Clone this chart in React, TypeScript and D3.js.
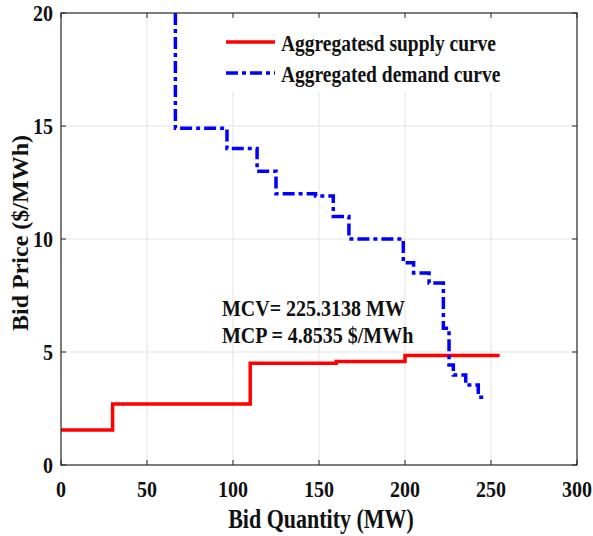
import React, { useEffect, useRef } from "react";
import * as d3 from "d3";

// step curves: price holds from qty[i] to qty[i+1]
const supplyQty = [0, 30, 110, 160, 200, 255];
const supplyPrice = [1.55, 2.7, 4.5, 4.58, 4.85, 4.85];

const demandQty = [66.5, 66.5, 96.5, 114, 125, 148, 158.3, 167.4, 199, 205, 214, 222.3, 225.6, 228.1, 235.3, 242.6, 247];
const demandPrice = [20, 14.9, 14.0, 13.0, 12.0, 11.9, 11.0, 10.0, 8.95, 8.5, 8.05, 6.05, 4.42, 3.98, 3.54, 3.0, 3.0];

const xTicks = [0, 50, 100, 150, 200, 250, 300];
const yTicks = [0, 5, 10, 15, 20];
const legendLabels = ["Aggregatesd supply curve", "Aggregated demand curve"];
const annotationLines = ["MCV= 225.3138 MW", "MCP = 4.8535 $/MWh"];
const xTitle = "Bid Quantity (MW)";
const yTitle = "Bid Price ($/MWh)";

const W = 593;
const H = 536;
const FONT = "'Liberation Serif', 'Times New Roman', serif";

type Pt = [number, number];

const Chart: React.FC = () => {
  const svgRef = useRef<SVGSVGElement | null>(null);

  useEffect(() => {
    if (!svgRef.current) return;
    const margin = { top: 13, right: 16, bottom: 71, left: 61 };
    const pw = W - margin.left - margin.right;
    const ph = H - margin.top - margin.bottom;

    const svg = d3.select(svgRef.current);
    svg.selectAll("*").remove();

    const g = svg
      .append("g")
      .attr("transform", `translate(${margin.left},${margin.top})`);

    const x = d3.scaleLinear().domain([0, 300]).range([0, pw]);
    const y = d3.scaleLinear().domain([0, 20]).range([ph, 0]);

    const text = (
      parent: d3.Selection<SVGGElement, unknown, null, undefined>,
      tx: number,
      ty: number,
      s: string,
      size: number,
      anchor: string,
      extra = ""
    ) =>
      parent
        .append("text")
        .attr("transform", `translate(${tx},${ty}) ${extra} scale(1,1.2)`)
        .attr("text-anchor", anchor)
        .attr("font-family", FONT)
        .attr("font-weight", "bold")
        .attr("font-size", size)
        .attr("fill", "#111")
        .text(s);

    // grid
    g.selectAll(".gx")
      .data(xTicks.slice(1, -1))
      .enter()
      .append("line")
      .attr("x1", (d) => x(d))
      .attr("x2", (d) => x(d))
      .attr("y1", 0)
      .attr("y2", ph)
      .attr("stroke", "#e3e3e3")
      .attr("stroke-width", 1);
    g.selectAll(".gy")
      .data(yTicks.slice(1, -1))
      .enter()
      .append("line")
      .attr("x1", 0)
      .attr("x2", pw)
      .attr("y1", (d) => y(d))
      .attr("y2", (d) => y(d))
      .attr("stroke", "#e3e3e3")
      .attr("stroke-width", 1);

    svg
      .append("defs")
      .append("clipPath")
      .attr("id", "plot-clip")
      .append("rect")
      .attr("width", pw)
      .attr("height", ph);

    const line = d3
      .line<Pt>()
      .x((d) => x(d[0]))
      .y((d) => y(d[1]))
      .curve(d3.curveStepAfter);

    const supply: Pt[] = supplyQty.map((q, i) => [q, supplyPrice[i]]);
    const demand: Pt[] = demandQty.map((q, i) => [q, demandPrice[i]]);

    const lines = g.append("g").attr("clip-path", "url(#plot-clip)");
    lines
      .append("path")
      .datum(supply)
      .attr("fill", "none")
      .attr("stroke", "#ff0000")
      .attr("stroke-width", 3.5)
      .attr("d", line);
    lines
      .append("path")
      .datum(demand)
      .attr("fill", "none")
      .attr("stroke", "#0000ff")
      .attr("stroke-width", 3.5)
      .attr("stroke-dasharray", "12 4 4 4")
      .attr("d", line);

    // annotation
    annotationLines.forEach((s, i) => {
      text(g, 161, 303 + i * 27, s, 20, "start");
    });

    // legend
    const lg = g.append("g");
    lg.append("rect")
      .attr("x", 157)
      .attr("y", 3)
      .attr("width", 300)
      .attr("height", 76)
      .attr("fill", "#fff");
    legendLabels.forEach((s, i) => {
      const ly = 29 + i * 31;
      lg.append("line")
        .attr("x1", 165)
        .attr("x2", 214)
        .attr("y1", ly)
        .attr("y2", ly)
        .attr("stroke", i === 0 ? "#ff0000" : "#0000ff")
        .attr("stroke-width", 3.5)
        .attr("stroke-dasharray", i === 0 ? null : "12 4 4 4");
      text(lg, 220, ly + 8.5, s, 19.5, "start");
    });

    // axes box with inward ticks on all sides
    const axisColor = "#262626";
    g.append("rect")
      .attr("width", pw)
      .attr("height", ph)
      .attr("fill", "none")
      .attr("stroke", axisColor)
      .attr("stroke-width", 1.2);
    xTicks.forEach((t) => {
      g.append("line")
        .attr("x1", x(t)).attr("x2", x(t))
        .attr("y1", ph).attr("y2", ph - 5)
        .attr("stroke", axisColor);
      g.append("line")
        .attr("x1", x(t)).attr("x2", x(t))
        .attr("y1", 0).attr("y2", 5)
        .attr("stroke", axisColor);
      text(g, x(t), ph + 32, String(t), 20, "middle");
    });
    yTicks.forEach((t) => {
      g.append("line")
        .attr("x1", 0).attr("x2", 5)
        .attr("y1", y(t)).attr("y2", y(t))
        .attr("stroke", axisColor);
      g.append("line")
        .attr("x1", pw).attr("x2", pw - 5)
        .attr("y1", y(t)).attr("y2", y(t))
        .attr("stroke", axisColor);
      text(g, -8, y(t) + 8, String(t), 20, "end");
    });

    text(g, pw / 2 + 2, ph + 63, xTitle, 22, "middle");
    g.append("text")
      .attr("transform", `translate(${28 - margin.left},${ph / 2 - 6}) rotate(-90)`)
      .attr("text-anchor", "middle")
      .attr("font-family", FONT)
      .attr("font-weight", "bold")
      .attr("font-size", 24)
      .attr("fill", "#111")
      .text(yTitle);
  }, []);

  return (
    <div style={{ position: "absolute", left: 0, top: 0, background: "#fff" }}>
      <svg ref={svgRef} width={W} height={H} style={{ display: "block" }}></svg>
    </div>
  );
};

export default function App() {
  return <Chart />;
}
